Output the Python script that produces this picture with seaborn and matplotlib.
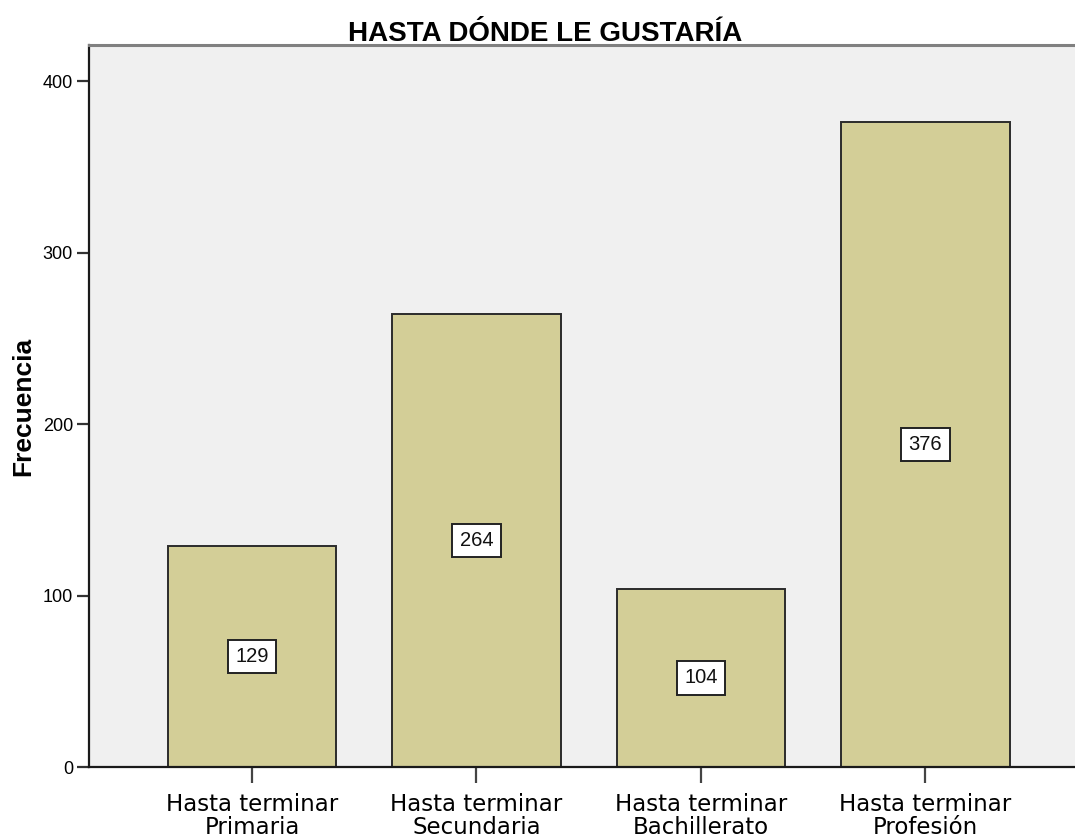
"""
Bar chart: HASTA DÓNDE LE GUSTARÍA (SPSS style)
"""
import matplotlib
matplotlib.use("Agg")
import matplotlib.pyplot as plt
import seaborn as sns
import pandas as pd

categories = ["Hasta terminar\nPrimaria", "Hasta terminar\nSecundaria",
              "Hasta terminar\nBachillerato", "Hasta terminar\nProfesión"]
frecuencia = [129, 264, 104, 376]
y_ticks = [0, 100, 200, 300, 400]

data = pd.DataFrame({"nivel": categories, "frecuencia": frecuencia})

sns.set_style("white")
plt.rcParams["font.family"] = ["Liberation Sans", "DejaVu Sans"]
plt.rcParams["text.color"] = "black"
plt.rcParams["axes.labelcolor"] = "black"
plt.rcParams["xtick.color"] = "#444444"
plt.rcParams["ytick.color"] = "#333333"
plt.rcParams["xtick.labelcolor"] = "black"
plt.rcParams["ytick.labelcolor"] = "black"

fig = plt.figure(figsize=(10.75, 8.39), dpi=100)
ax = fig.add_axes([89 / 1075, 72 / 839, 1 - 89 / 1075, (767 - 45) / 839])
ax.set_facecolor("#F0F0F0")

sns.barplot(data=data, x="nivel", y="frecuencia", color="#D3CE97",
            saturation=1, width=0.75, edgecolor="#2b2b2b", linewidth=1.4, ax=ax)

# value labels in white boxes at mid-height
for i, v in enumerate(frecuencia):
    ax.text(i, v / 2, str(v), ha="center", va="center", fontsize=14.5,
            color="#111111",
            bbox=dict(boxstyle="square,pad=0.36", fc="white", ec="#222222", lw=1.4))

ax.set_xlim(-0.726, 3.666)
ax.set_ylim(0, 421)
ax.set_yticks(y_ticks)
ax.set_yticklabels([str(t) for t in y_ticks], fontsize=13)
ax.tick_params(axis="y", direction="out", length=8.6, width=1.6, pad=3, left=True)
ax.tick_params(axis="x", direction="out", length=11.5, width=1.6, pad=7, bottom=True)
for lab in ax.get_xticklabels():
    lab.set_fontfamily("DejaVu Sans")
    lab.set_fontsize(16.5)
    lab.set_linespacing(1.02)

ax.set_xlabel("")
ax.set_ylabel("Frecuencia", fontsize=19, fontweight="bold", labelpad=5)

for side in ["left", "bottom"]:
    ax.spines[side].set_color("#1a1a1a")
    ax.spines[side].set_linewidth(1.6)
ax.spines["top"].set_color("#808080")
ax.spines["top"].set_linewidth(2.2)
ax.spines["right"].set_visible(False)

ax.set_title("HASTA DÓNDE LE GUSTARÍA", fontsize=20, fontweight="bold",
             x=(545 - 89) / 986, pad=3, color="black")

fig.savefig("out.png", dpi=100)
